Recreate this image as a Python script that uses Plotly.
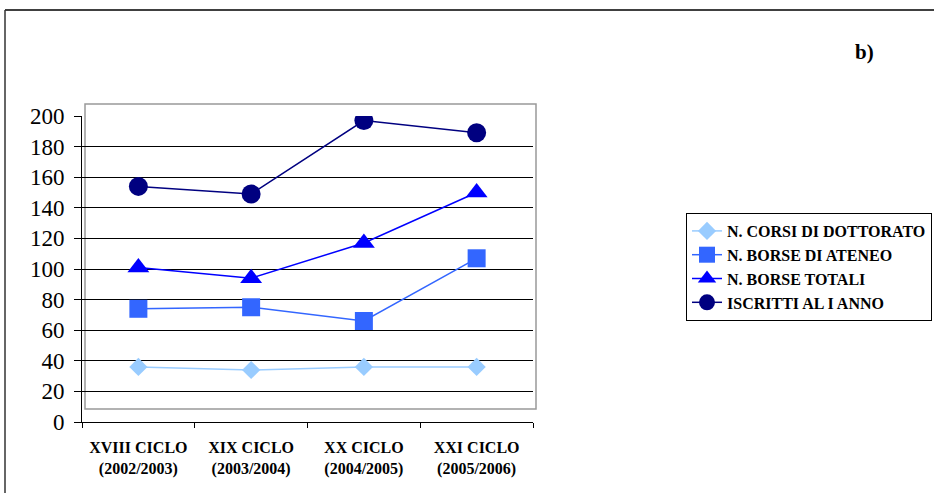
import plotly.graph_objects as go

categories = ["XVIII CICLO<br>(2002/2003)", "XIX CICLO<br>(2003/2004)",
              "XX CICLO<br>(2004/2005)", "XXI CICLO<br>(2005/2006)"]
corsi = [36, 34, 36, 36]
borse_ateneo = [74, 75, 66, 107]
borse_totali = [101, 94, 117, 150]
iscritti = [154, 149, 197, 189]

series_names = ["N. CORSI DI DOTTORATO", "N. BORSE DI ATENEO",
                "N. BORSE TOTALI", "ISCRITTI AL I ANNO"]
y_ticks = [0, 20, 40, 60, 80, 100, 120, 140, 160, 180, 200]

W, H = 934, 493
L, R, T, B = 82, 533, 116, 422


def px(x):
    return (x - L) / (R - L)


def py(y):
    return (B - y) / (B - T)


styles = [
    dict(color="#99CCFF", symbol="diamond", size=14),
    dict(color="#3366FF", symbol="square", size=18),
    dict(color="#0000FF", symbol="triangle-up", size=19),
    dict(color="#000080", symbol="circle", size=19),
]

fig = go.Figure()
for name, vals, st in zip(series_names, [corsi, borse_ateneo, borse_totali, iscritti], styles):
    fig.add_trace(go.Scatter(
        x=categories, y=vals, name=name, mode="lines+markers",
        legendgroup=name,
        line=dict(color=st["color"], width=1.5),
        marker=dict(color=st["color"], symbol=st["symbol"], size=st["size"],
                    line=dict(width=0)),
    ))

font = "Liberation Serif, Times New Roman, serif"

fig.update_layout(
    width=W, height=H,
    margin=dict(l=L, r=W - R, t=T, b=H - B, autoexpand=False),
    paper_bgcolor="white", plot_bgcolor="white",
    font=dict(family=font, color="black"),
    showlegend=True,
    legend=dict(
        x=px(686), y=py(213), xanchor="left", yanchor="top",
        bordercolor="black", borderwidth=1, bgcolor="white",
        font=dict(family=font, size=16, color="black", weight="bold"),
        traceorder="normal", tracegroupgap=0,
    ),
    xaxis=dict(
        type="category", showgrid=False, showline=True, linecolor="black",
        linewidth=1, ticks="outside", ticklen=5, tickcolor="black",
        tickson="boundaries", zeroline=False,
        tickfont=dict(family=font, size=16, color="black", weight="bold"),
        ticklabelstandoff=11,
        range=[-0.5, 3.5],
    ),
    yaxis=dict(
        range=[0, 200], tickvals=y_ticks, showgrid=True, gridcolor="black",
        gridwidth=1, showline=True, linecolor="black", linewidth=1,
        ticks="outside", ticklen=7, tickcolor="black", zeroline=False,
        tickfont=dict(family=font, size=23, color="black"),
        ticklabelstandoff=5,
    ),
    shapes=[
        dict(type="rect", xref="paper", yref="paper",
             x0=px(85), x1=px(536), y0=py(409), y1=py(104),
             line=dict(color="#999999", width=1.5), layer="below"),
        dict(type="line", xref="paper", yref="paper",
             x0=px(5), x1=px(940), y0=py(10), y1=py(10),
             line=dict(color="black", width=1.5)),
        dict(type="line", xref="paper", yref="paper",
             x0=px(5), x1=px(5), y0=py(10), y1=py(500),
             line=dict(color="#333333", width=1.5)),
    ],
    annotations=[
        dict(text="<b>b)</b>", xref="paper", yref="paper",
             x=px(864), y=py(52), xanchor="center", yanchor="middle",
             showarrow=False, font=dict(family=font, size=21, color="black")),
    ],
)

fig.write_html(
    "out.html",
    config={"displayModeBar": False},
    post_script="document.body.style.margin='0px';document.body.style.overflow='hidden';",
)
